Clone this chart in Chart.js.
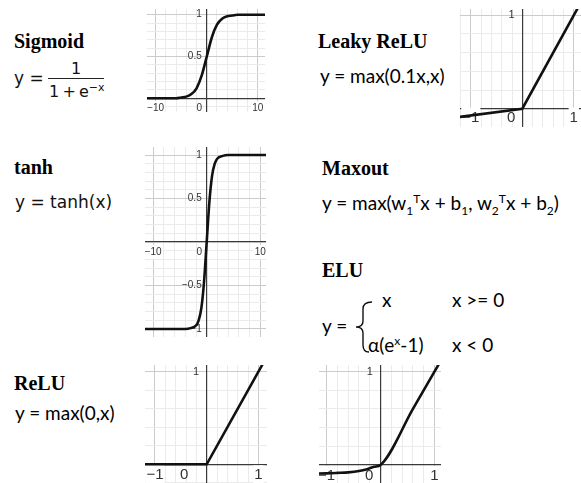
<!DOCTYPE html>
<html>
<head>
<meta charset="utf-8">
<script src="https://cdn.jsdelivr.net/npm/chart.js@4.4.1/dist/chart.umd.min.js"></script>
<style>
    body { margin: 0; background: #fff; }
    #page { position: relative; width: 581px; height: 483px; overflow: hidden; background: #fff; }
    .plot { position: absolute; }
    .title { position: absolute; font-family: "Liberation Serif", serif; font-weight: bold; font-size: 20px; line-height: 1; color: #000; white-space: nowrap; }
    .fx { position: absolute; font-family: "Lato", sans-serif; font-size: 19px; line-height: 1; color: #000; white-space: nowrap; }
    .dm { position: absolute; font-family: "DejaVu Sans", sans-serif; font-size: 17px; line-height: 1; color: #111; white-space: nowrap; }
    .fx sub, .fx sup { font-size: 12px; line-height: 0; }
    .dm sup { font-size: 11px; line-height: 0; }
</style>
</head>
<body>
<div id="page">
    <div class="title" style="left:14px; top:31px;">Sigmoid</div>
    <div class="dm" style="left:14px; top:70px;">y =</div>
    <div class="dm" style="left:71px; top:61px; font-size:16px;">1</div>
    <div style="position:absolute; left:48px; top:78px; width:56px; height:1.3px; background:#222;"></div>
    <div class="dm" style="left:49px; top:84px; font-size:16px;">1&#8201;+&#8201;e<sup>&minus;x</sup></div>

    <div class="title" style="left:14px; top:157px;">tanh</div>
    <div class="dm" style="left:15px; top:194px;">y = tanh(x)</div>

    <div class="title" style="left:14px; top:373px;">ReLU</div>
    <div class="fx" style="left:15px; top:403px;">y = max(0,x)</div>

    <div class="title" style="left:318px; top:31px;">Leaky ReLU</div>
    <div class="fx" style="left:320px; top:66px;">y = max(0.1x,x)</div>

    <div class="title" style="left:322px; top:158px;">Maxout</div>
    <div class="fx" style="left:322px; top:193px;">y = max(w<sub>1</sub><sup>T</sup>x + b<sub>1</sub>, w<sub>2</sub><sup>T</sup>x + b<sub>2</sub>)</div>

    <div class="title" style="left:322px; top:260px;">ELU</div>
    <div class="fx" style="left:322px; top:316px;">y =</div>
    <svg style="position:absolute; left:0; top:0;" width="581" height="483">
        <path d="M372,302 Q363,302 363,309 L363,321 Q363,327 356,327 Q363,327 363,333 L363,345 Q363,352 369,352"
              fill="none" stroke="#111" stroke-width="1.4"/>
    </svg>
    <div class="fx" style="left:382px; top:290px;">x</div>
    <div class="fx" style="left:452px; top:290px;">x &gt;= 0</div>
    <div class="fx" style="left:368px; top:335px;">&alpha;(e<sup>x</sup>-1)</div>
    <div class="fx" style="left:452px; top:335px;">x &lt; 0</div>

    <div class="plot" style="left:147px; top:9px; width:118px; height:103px;"><canvas id="sigmoidChart" width="118" height="103"></canvas></div>
    <div class="plot" style="left:145px; top:147px; width:121px; height:190px;"><canvas id="tanhChart" width="121" height="190"></canvas></div>
    <div class="plot" style="left:145px; top:365px; width:122px; height:118px;"><canvas id="reluChart" width="122" height="118"></canvas></div>
    <div class="plot" style="left:460px; top:9px; width:121px; height:118px;"><canvas id="leakyChart" width="121" height="118"></canvas></div>
    <div class="plot" style="left:319px; top:365px; width:122px; height:118px;"><canvas id="eluChart" width="122" height="118"></canvas></div>
</div>

<script>
// Curve samples
const sigmoidX = [-12, -8, -6, -5, -4, -3, -2, -1, 0, 1, 2, 3, 4, 5, 6, 8, 12];
const sigmoidY = [0, 0, 0, 0.01, 0.02, 0.05, 0.12, 0.27, 0.5, 0.73, 0.88, 0.95, 0.98, 0.99, 1, 1, 1];

const tanhX = [-12, -6, -4, -3, -2, -1.5, -1, -0.5, 0, 0.5, 1, 1.5, 2, 3, 4, 6, 12];
const tanhY = [-1, -1, -1, -0.99, -0.96, -0.9, -0.76, -0.46, 0, 0.46, 0.76, 0.9, 0.96, 0.99, 1, 1, 1];

const reluX = [-1.3, 0, 1.2];
const reluY = [0, 0, 1.2];

const leakyX = [-1.25, 0, 1.2];
const leakyY = [-0.09, 0, 1.2];

const eluX = [-1.25, -1.0, -0.8, -0.6, -0.4, -0.25, -0.12, 0, 0.6, 1.2];
const eluY = [-0.093, -0.09, -0.085, -0.079, -0.065, -0.045, -0.02, 0, 0.6, 1.2];

// Tick labels
const wideXLabels = [-10, 0, 10];
const sigmoidYLabels = [0.5, 1];
const tanhYLabels = [-1, -0.5, 0.5, 1];
const unitXLabels = [-1, 0, 1];
const unitYLabels = [1];

const MINOR_GRID = '#ebebeb';
const MAJOR_GRID = '#cbcbcb';
const AXIS_COLOR = '#3a3a3a';

function hasValue(list, v) {
    return list.some(l => Math.abs(l - v) < 1e-6);
}

function fmt(v) {
    const s = String(Math.round(v * 1000) / 1000);
    return v < 0 ? '\u2212' + s.slice(1) : s;
}

// kill the label padding so the plot fills the canvas
function noPad(scale) {
    scale.paddingLeft = 0;
    scale.paddingRight = 0;
    scale.paddingTop = 0;
    scale.paddingBottom = 0;
}

function makeAxis(cfg) {
    return {
        type: 'linear',
        min: cfg.min,
        max: cfg.max,
        position: cfg.position,
        afterFit: noPad,
        grid: {
            drawTicks: false,
            lineWidth: 1,
            color: ctx => (ctx.tick && hasValue(cfg.labels, ctx.tick.value)) ? MAJOR_GRID : MINOR_GRID
        },
        border: { display: true, color: AXIS_COLOR, width: 1.2 },
        ticks: {
            stepSize: cfg.step,
            includeBounds: false,
            autoSkip: false,
            maxRotation: 0,
            minRotation: 0,
            padding: cfg.padding,
            color: '#333',
            font: { family: 'Liberation Sans, Arial, sans-serif', size: cfg.fontSize },
            // white box only behind real x labels, never over the axis lines
            showLabelBackdrop: ctx => cfg.backdrop && !!ctx.tick && Math.abs(ctx.tick.value) > 1e-6 && hasValue(cfg.labels, ctx.tick.value),
            backdropColor: '#fff',
            backdropPadding: 1,
            callback: (value) => {
                if (!hasValue(cfg.labels, value)) return '';
                if (Math.abs(value) < 1e-6) return '0' + cfg.shift;
                return fmt(value) + (cfg.tail || '');
            }
        }
    };
}

/**
 * Draw one activation curve
 */
function createCurve(elementId, xs, ys, opts) {
    const ctx = document.getElementById(elementId);
    const points = xs.map((x, i) => ({ x: x, y: ys[i] }));

    return new Chart(ctx, {
        type: 'scatter',
        data: {
            datasets: [{
                data: points,
                showLine: true,
                borderColor: '#111',
                borderWidth: 2.6,
                pointRadius: 0,
                cubicInterpolationMode: opts.smooth ? 'monotone' : 'default',
                tension: 0
            }]
        },
        options: {
            responsive: false,
            animation: false,
            devicePixelRatio: 1,
            layout: { padding: 0 },
            plugins: {
                legend: { display: false },
                tooltip: { enabled: false }
            },
            scales: {
                x: makeAxis(Object.assign({ position: { y: 0 }, backdrop: true }, opts.x)),
                y: makeAxis(Object.assign({ position: { x: 0 }, backdrop: false, shift: '' }, opts.y))
            }
        }
    });
}

createCurve('sigmoidChart', sigmoidX, sigmoidY, {
    smooth: true,
    x: { min: -11.7, max: 11.4, step: 2, labels: wideXLabels, fontSize: 10, padding: 4, shift: '\u2003\u2002' },
    y: { min: -0.164, max: 1.068, step: 0.1, labels: sigmoidYLabels, fontSize: 10, padding: 0, tail: '\u2002' }
});

createCurve('tanhChart', tanhX, tanhY, {
    smooth: true,
    x: { min: -11.53, max: 11.08, step: 2, labels: wideXLabels, fontSize: 10, padding: 4, shift: '\u2003\u2002' },
    y: { min: -1.092, max: 1.092, step: 0.1, labels: tanhYLabels, fontSize: 10, padding: 0, tail: '\u2002' }
});

createCurve('reluChart', reluX, reluY, {
    smooth: false,
    x: { min: -1.193, max: 1.166, step: 0.2, labels: unitXLabels, fontSize: 15, padding: 2, shift: '\u2003\u2003\u2003' },
    y: { min: -0.202, max: 1.072, step: 0.2, labels: unitYLabels, fontSize: 11, padding: 0, tail: '\u2002\u2009' }
});

createCurve('leakyChart', leakyX, leakyY, {
    smooth: false,
    x: { min: -1.21, max: 1.14, step: 0.2, labels: unitXLabels, fontSize: 15, padding: 0, shift: '\u2003\u2002' },
    y: { min: -0.196, max: 1.067, step: 0.2, labels: unitYLabels, fontSize: 11, padding: 0, tail: '\u2002\u2009' }
});

createCurve('eluChart', eluX, eluY, {
    smooth: true,
    x: { min: -1.14, max: 1.12, step: 0.2, labels: unitXLabels, fontSize: 15, padding: 2, shift: '\u2003\u2002' },
    y: { min: -0.193, max: 1.07, step: 0.2, labels: unitYLabels, fontSize: 11, padding: 0, tail: '\u2002\u2009' }
});
</script>
</body>
</html>
